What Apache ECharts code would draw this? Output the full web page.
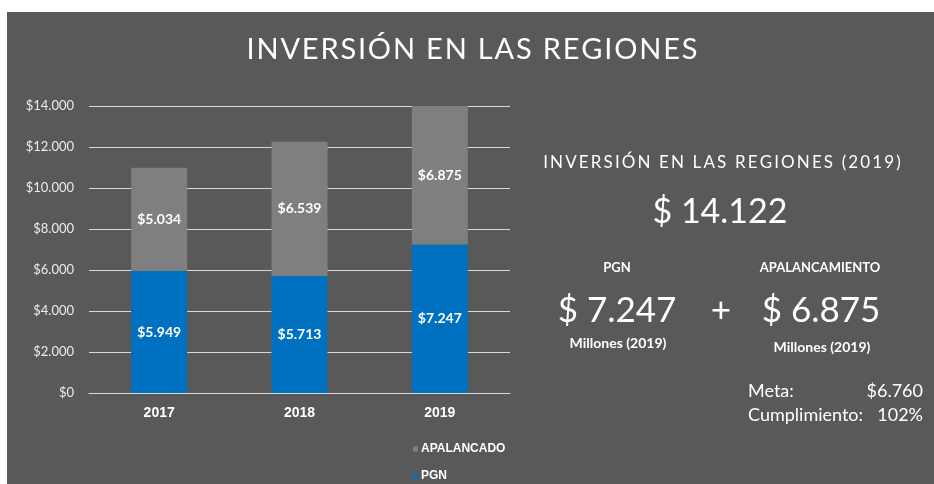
<!DOCTYPE html>
<html>
<head>
<meta charset="utf-8">
<script src="https://cdn.jsdelivr.net/npm/echarts@6/dist/echarts.min.js"></script>
<style>
  html, body { margin: 0; padding: 0; background: #fff; }
  #chart { width: 934px; height: 484px; }
</style>
</head>
<body>
<div id="chart"></div>
<script>
// data
const years = ['2017', '2018', '2019'];
const pgn = [5949, 5713, 7247];
const apalancado = [5034, 6539, 6875];
const yTicks = [0, 2000, 4000, 6000, 8000, 10000, 12000, 14000];
const meta2019 = 6760;

let fmt = (v) => String(v).replace(/\B(?=(\d{3})+(?!\d))/g, '.');
let spaced = (s, gap) => s.split('').join(gap);

let last = years.length - 1;
let total = pgn[last] + apalancado[last];
let cumplimiento = Math.round(apalancado[last] / meta2019 * 100);

const font = 'Lato, "Open Sans", sans-serif';
const bold = '"Liberation Sans", Arial, sans-serif';

let chart = echarts.init(document.getElementById('chart'));

let txt = (x, y, text, size, opts) => ({
    type: 'text',
    x: x,
    y: y,
    style: Object.assign({
        text: text,
        fill: '#ffffff',
        font: (opts && opts.fw ? opts.fw + ' ' : '') + size + 'px ' + font,
        align: 'center',
        verticalAlign: 'middle'
    }, opts && opts.style)
});

let barLabel = {
    show: true,
    position: 'inside',
    color: '#ffffff',
    fontFamily: font,
    fontWeight: 'bold',
    fontSize: 14,
    formatter: (p) => '$' + fmt(p.value)
};

option = {
    animation: false,
    backgroundColor: '#ffffff',
    grid: {
        left: 89,
        right: 424,
        top: 106,
        bottom: 91
    },
    legend: {
        orient: 'vertical',
        left: 413,
        top: 443,
        padding: 0,
        itemWidth: 5,
        itemHeight: 5,
        itemGap: 15,
        icon: 'rect',
        data: ['APALANCADO', 'PGN'],
        textStyle: {
            color: '#ffffff',
            fontFamily: bold,
            fontWeight: 'bold',
            fontSize: 12,
            padding: [0, 0, 0, -2]
        }
    },
    xAxis: {
        type: 'category',
        data: years,
        axisLine: { lineStyle: { color: '#d9d9d9', width: 1 } },
        axisTick: { show: false },
        axisLabel: {
            color: '#ffffff',
            fontFamily: bold,
            fontWeight: 'bold',
            fontSize: 14,
            margin: 13
        }
    },
    yAxis: {
        type: 'value',
        min: yTicks[0],
        max: yTicks[yTicks.length - 1],
        interval: 2000,
        axisLine: { show: false },
        axisTick: { show: false },
        splitLine: { lineStyle: { color: '#d9d9d9', width: 1 } },
        axisLabel: {
            color: '#ececec',
            fontFamily: font,
            fontSize: 13,
            margin: 15,
            formatter: (v) => '$' + fmt(v)
        }
    },
    series: [
        {
            name: 'PGN',
            type: 'bar',
            stack: 'total',
            data: pgn,
            barWidth: 56,
            itemStyle: { color: '#0070c0' },
            label: barLabel
        },
        {
            name: 'APALANCADO',
            type: 'bar',
            stack: 'total',
            data: apalancado,
            barWidth: 56,
            itemStyle: { color: '#7f7f7f' },
            label: barLabel
        }
    ],
    graphic: [
        {
            type: 'rect',
            z: -10,
            shape: { x: 7, y: 12, width: 927, height: 472 },
            style: { fill: '#595959' }
        },
        txt(472, 50, spaced('INVERSIÓN EN LAS REGIONES', '\u200A'), 29),
        txt(722, 163, spaced('INVERSIÓN EN LAS REGIONES (' + years[last] + ')', '\u2009'), 17),
        txt(720, 212, '$ ' + fmt(total), 34),
        txt(617, 268, 'PGN', 13, { fw: 'bold' }),
        txt(820, 268, 'APALANCAMIENTO', 13, { fw: 'bold' }),
        txt(617, 311, '$ ' + fmt(pgn[last]), 35),
        txt(721, 311, '+', 35),
        txt(821, 311, '$ ' + fmt(apalancado[last]), 35),
        txt(618, 343, 'Millones (' + years[last] + ')', 14, { fw: 'bold' }),
        txt(822, 347, 'Millones (' + years[last] + ')', 14, { fw: 'bold' }),
        txt(748, 391, 'Meta:', 18, { style: { align: 'left' } }),
        txt(923, 391, '$' + fmt(meta2019), 18, { style: { align: 'right' } }),
        txt(748, 415, 'Cumplimiento:', 18, { style: { align: 'left' } }),
        txt(923, 415, cumplimiento + '%', 18, { style: { align: 'right' } })
    ]
};

chart.setOption(option);
</script>
</body>
</html>
